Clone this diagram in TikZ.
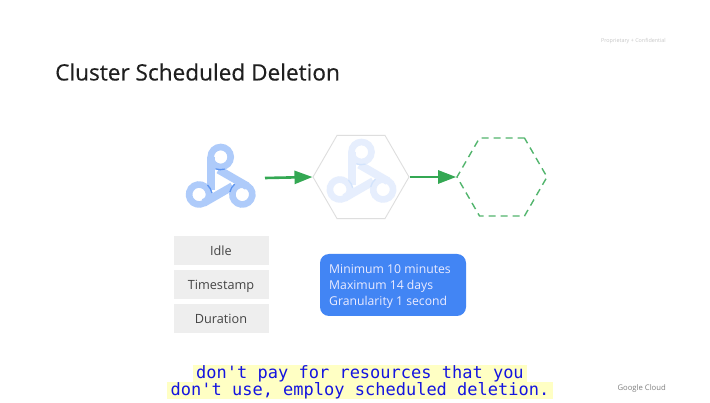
\documentclass[tikz,border=0pt]{standalone}
\usepackage{fontspec}
\setmainfont{Open Sans}
\newfontfamily\capfont{DejaVu Sans Mono}
\newfontfamily\headfont[FakeBold=0.35]{Open Sans}
\usetikzlibrary{arrows.meta,shapes.geometric}
\definecolor{armA}{HTML}{AECBFA}
\definecolor{armB}{HTML}{5C94F0}
\definecolor{armC}{HTML}{E6EEFD}
\definecolor{armD}{HTML}{D2E3FC}
\definecolor{flow}{HTML}{34A853}
\definecolor{cardbg}{HTML}{EEEEEE}
\definecolor{cardfg}{HTML}{444444}
\definecolor{notebg}{HTML}{4285F4}
\definecolor{capbg}{HTML}{FFFFC4}
\definecolor{capfg}{HTML}{1414E0}
\tikzset{
  x=1pt,y=-1pt,
  hexbase/.style={regular polygon,regular polygon sides=6,inner sep=0pt},
  card/.style={fill=cardbg,text=cardfg,minimum width=95pt,minimum height=29pt,inner sep=0pt,text height=12pt,text depth=2pt,font=\fontsize{12.7}{16}\selectfont},
  flowline/.style={draw=flow,line width=2.6pt,-{Triangle[length=18pt,width=13pt]}},
  capline/.style={fill=capbg,text=capfg,inner sep=0pt,font=\capfont\fontsize{17}{17}\selectfont,text height=13pt,text depth=4pt},
  pics/spinner/.style n args={2}{code={
    \foreach \a in {0,120,240}{
      \begin{scope}[rotate around={\a:(0,0)}]
        \draw[#1,line width=8pt] (-9.6,-25) -- (-9.6,8);
        \draw[#1,line width=6.6pt] (0,-25) circle[radius=10];
      \end{scope}
    }
    \foreach \a in {0,120,240}{
      \begin{scope}[rotate around={\a:(0,0)}]
        \draw[#2,line width=1.3pt] (-13.2,3) .. controls (-11,5) and (-9.4,8) .. (-8.8,11);
      \end{scope}
    }
  }}
}
\begin{document}
\begin{tikzpicture}
\useasboundingbox (0,0) rectangle (710,403);
\fill[white] (0,0) rectangle (710,403);
\node[anchor=west,text=black!88,font=\headfont\fontsize{22.6}{26}\selectfont,inner sep=0pt] (title) at (55,72) {Cluster Scheduled Deletion};
\node[anchor=east,text=black!22,font=\fontsize{5.4}{7}\selectfont,inner sep=0pt] (conf) at (666,41.5) {Proprietary + Confidential};
\node[anchor=east,text=black!50,font=\fontsize{7.7}{10}\selectfont,inner sep=0pt] (brand) at (666,389) {Google Cloud};

\pic at (220.7,182) {spinner={armA}{armB}};
\node[hexbase,draw=black!13,line width=0.9pt,minimum size=96pt] (hexA) at (361,177) {};
\pic at (361.5,177) {spinner={armC}{armD}};
\node[hexbase,draw=flow!85!white,line width=1.4pt,dash pattern=on 7pt off 5pt,minimum size=90pt] (hexB) at (502,177) {};

\coordinate (start) at (265,178);
\draw[flowline] (start) -- (hexA.west);
\draw[flowline] (hexA.east) -- (hexB.west);

\node[card] (idle) at (221,250.5) {Idle};
\node[card] (stamp) at (221,284.5) {Timestamp};
\node[card] (dur) at (221,319) {Duration};

\node[fill=notebg,rounded corners=9pt,minimum width=146pt,minimum height=62pt,inner sep=0pt] (note) at (393,285) {};
\node[anchor=west,text=white!92!blue,inner sep=0pt,align=left,font=\fontsize{12.2}{16}\selectfont] (notetext) at (329,286) {Minimum 10 minutes\\Maximum 14 days\\Granularity 1 second};

\node[capline,minimum width=334pt] (capA) at (360,374) {don't pay for resources that you};
\node[capline,minimum width=386pt] (capB) at (360,391) {don't use, employ scheduled deletion.};
\end{tikzpicture}
\end{document}
